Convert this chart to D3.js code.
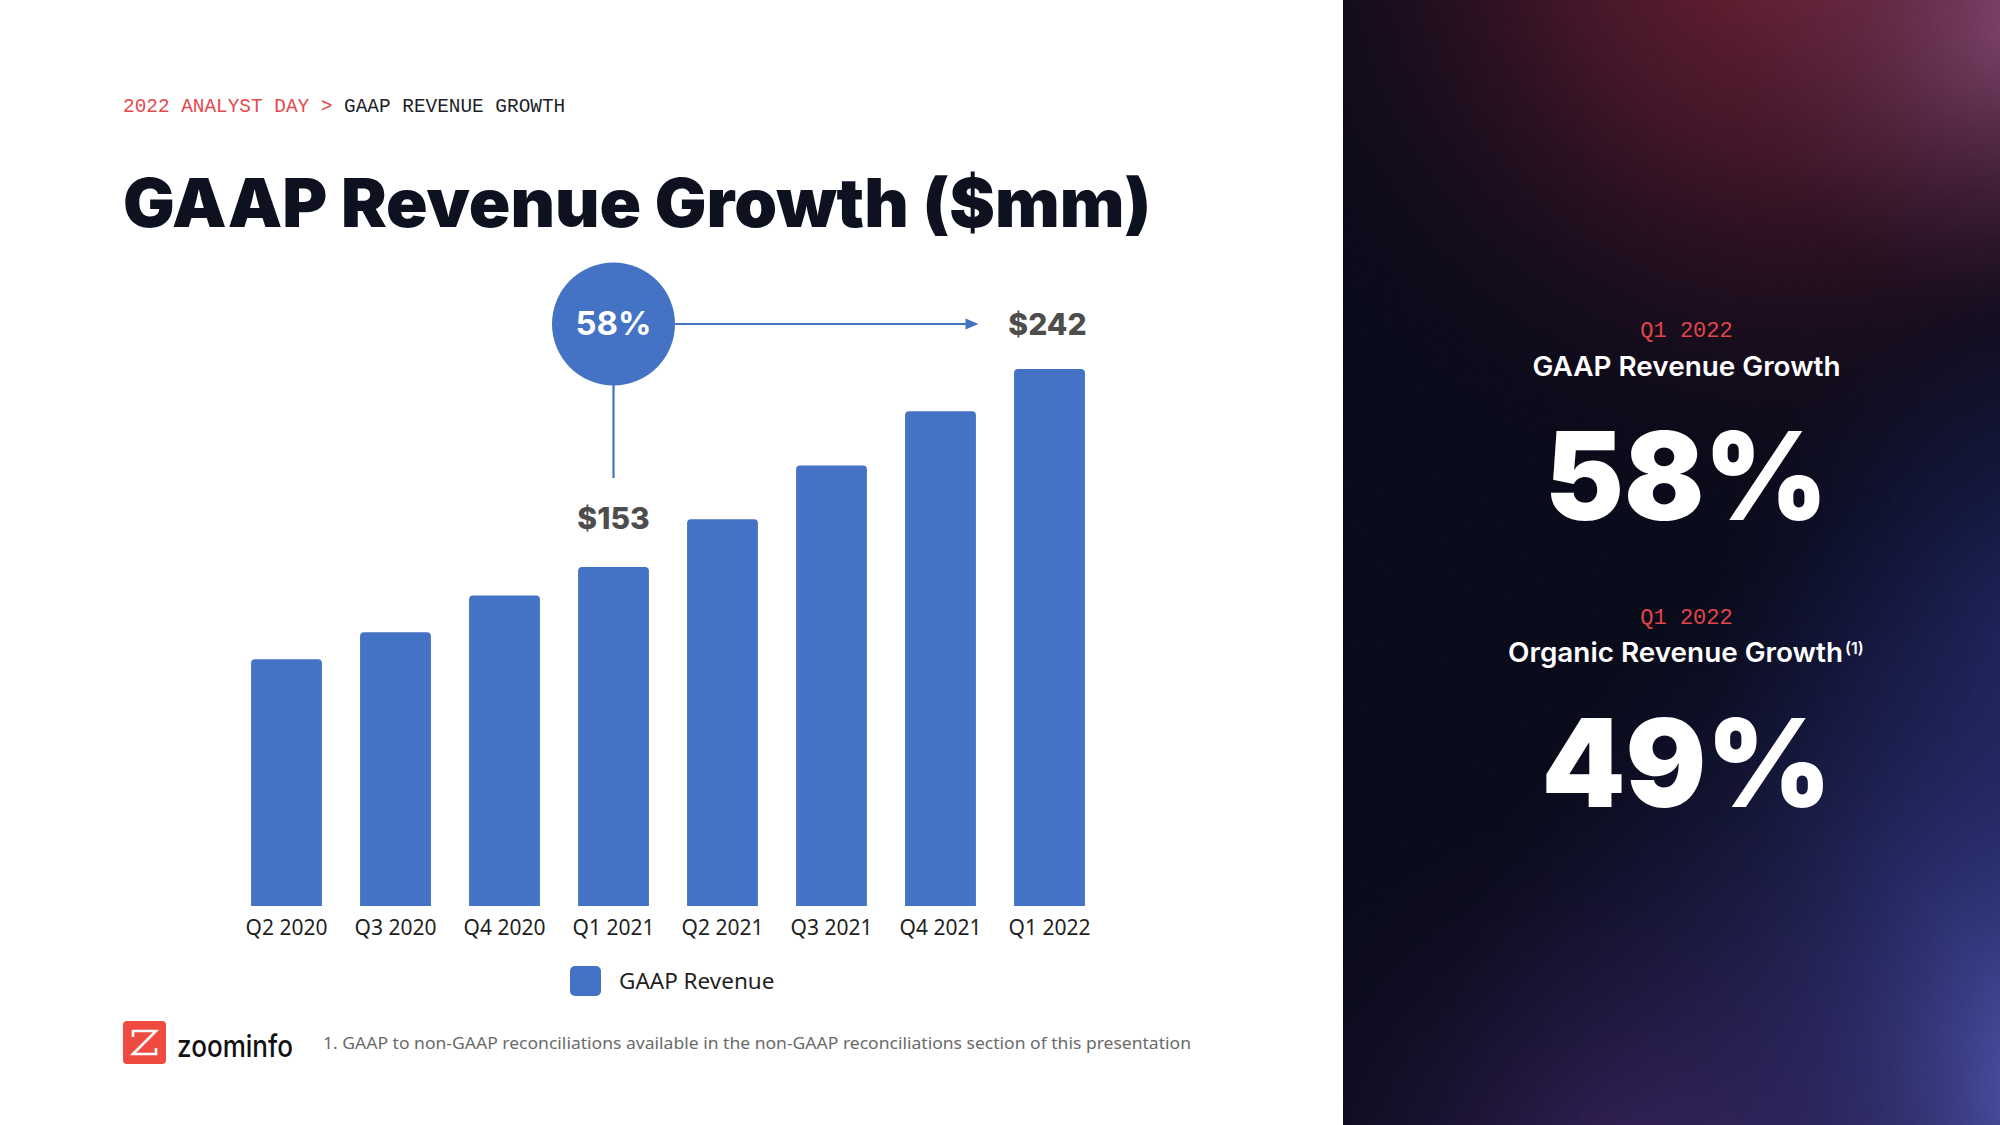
<!DOCTYPE html>
<html><head><meta charset="utf-8">
<script src="https://cdn.jsdelivr.net/npm/d3@7"></script>
<style>body{margin:0;background:#fff}svg{display:block}</style>
</head><body>
<script>
// ---- data ----
const categories = ["Q2 2020","Q3 2020","Q4 2020","Q1 2021","Q2 2021","Q3 2021","Q4 2021","Q1 2022"];
const revenue = [111.0, 123.2, 139.7, 152.6, 174.1, 198.2, 222.7, 241.7];
const seriesName = "GAAP Revenue";
const growthLabel = "58%";
const growthFrom = "Q1 2021";
const growthTo = "Q1 2022";
const statPeriods = ["Q1 2022", "Q1 2022"];
const statTitles = ["GAAP Revenue Growth", "Organic Revenue Growth"];
const statValues = ["58%", "49%"];
const breadcrumb = ["2022 ANALYST DAY > ", "GAAP REVENUE GROWTH"];
const title = "GAAP Revenue Growth ($mm)";
const footnote = "1. GAAP to non-GAAP reconciliations available in the non-GAAP reconciliations section of this presentation";

const W = 2000, H = 1125;
const BLUE = "#4472C4";
const svg = d3.select("body").append("svg").attr("width", W).attr("height", H);
const defs = svg.append("defs");

// ---- right panel background ----
function radial(id, cx, cy, r, stops) {
  const g = defs.append("radialGradient").attr("id", id).attr("gradientUnits", "userSpaceOnUse")
    .attr("cx", cx).attr("cy", cy).attr("r", r);
  stops.forEach(s => g.append("stop").attr("offset", s[0]).attr("stop-color", s[1]).attr("stop-opacity", s[2]));
}
radial("gRed", 1800, -90, 620, [[0, "#7e2638", 0.95], [0.4, "#5a1a2e", 0.7], [0.75, "#2a0e1e", 0.3], [1, "#150a18", 0]]);
radial("gPink", 2030, 20, 300, [[0, "#9a5a88", 0.75], [0.6, "#6a3a60", 0.3], [1, "#4a2a50", 0]]);
radial("gBlueR", 2090, 640, 380, [[0, "#2c3a8c", 0.7], [0.6, "#1c2460", 0.35], [1, "#141a48", 0]]);
radial("gBlue", 2060, 1100, 620, [[0, "#5a62c4", 0.95], [0.4, "#3a4096", 0.6], [1, "#1a1a50", 0]]);
radial("gPurp", 1640, 1210, 420, [[0, "#4a2a72", 0.75], [0.6, "#2a1a48", 0.35], [1, "#1a1030", 0]]);
const nf = defs.append("filter").attr("id", "noise").attr("x", 0).attr("y", 0).attr("width", "100%").attr("height", "100%");
nf.append("feTurbulence").attr("type", "fractalNoise").attr("baseFrequency", 0.9).attr("numOctaves", 2).attr("seed", 3);
nf.append("feColorMatrix").attr("type", "matrix")
  .attr("values", "0 0 0 0 1  0 0 0 0 1  0 0 0 0 1  1 0 0 0 -0.45");
const clip = defs.append("clipPath").attr("id", "panelClip");
clip.append("rect").attr("x", 1343).attr("y", 0).attr("width", W - 1343).attr("height", H);

const panel = svg.append("g").attr("clip-path", "url(#panelClip)");
panel.append("rect").attr("x", 1343).attr("y", 0).attr("width", W - 1343).attr("height", H).attr("fill", "#090a1a");
["gRed", "gPink", "gBlueR", "gBlue", "gPurp"].forEach(id =>
  panel.append("rect").attr("x", 1343).attr("y", 0).attr("width", W - 1343).attr("height", H).attr("fill", `url(#${id})`));
panel.append("rect").attr("x", 1343).attr("y", 0).attr("width", W - 1343).attr("height", H)
  .attr("filter", "url(#noise)").attr("opacity", 0.06);

// ---- header ----
svg.append("text").attr("x", 123).attr("y", 112)
  .style("font-family", "'Liberation Mono', monospace").style("font-size", "19.4px")
  .call(t => {
    t.append("tspan").attr("fill", "#e5484d").text(breadcrumb[0]);
    t.append("tspan").attr("fill", "#1d1f2a").text(breadcrumb[1]);
  });
svg.append("text").attr("x", 123).attr("y", 227).text(title)
  .attr("textLength", 1028).attr("lengthAdjust", "spacingAndGlyphs")
  .style("font-family", "Inter, sans-serif").style("font-weight", 900).style("font-size", "67px")
  .attr("fill", "#0e1220");

// ---- chart ----
const x = d3.scaleBand().domain(categories).range([232, 1104]).paddingInner(0.35).paddingOuter(0.175);
const y = d3.scaleLinear().domain([0, 250]).range([906, 906 - 250 * 2.222]);
const data = categories.map((c, i) => ({ c, v: revenue[i] }));

function barPath(x0, y0, w, h, r) {
  return `M${x0},${y0 + h}V${y0 + r}Q${x0},${y0} ${x0 + r},${y0}H${x0 + w - r}Q${x0 + w},${y0} ${x0 + w},${y0 + r}V${y0 + h}Z`;
}
svg.append("g").selectAll("path").data(data).join("path")
  .attr("d", d => barPath(x(d.c), y(d.v), x.bandwidth(), y(0) - y(d.v), 4))
  .attr("fill", BLUE);

const xAxis = svg.append("g").attr("transform", `translate(0,${y(0)})`)
  .call(d3.axisBottom(x).tickSize(0).tickPadding(0));
xAxis.select(".domain").remove();
xAxis.selectAll("text").attr("dy", null).attr("y", 29)
  .style("font-family", "'Noto Sans', sans-serif").style("font-size", "21px").attr("fill", "#1f1f1f");

// ---- annotation ----
const cx = x(growthFrom) + x.bandwidth() / 2;
const cxTo = x(growthTo) + x.bandwidth() / 2;
const cy = 324, r = 61.5;
svg.append("line").attr("x1", cx).attr("x2", cx).attr("y1", cy + r - 2).attr("y2", 478)
  .attr("stroke", BLUE).attr("stroke-width", 2.2);
svg.append("line").attr("x1", cx + r - 2).attr("x2", cxTo - 82).attr("y1", cy).attr("y2", cy)
  .attr("stroke", BLUE).attr("stroke-width", 2.2);
svg.append("path").attr("d", `M${cxTo - 71},${cy}L${cxTo - 84},${cy - 5.5}L${cxTo - 84},${cy + 5.5}Z`).attr("fill", BLUE);
svg.append("circle").attr("cx", cx).attr("cy", cy).attr("r", r).attr("fill", BLUE);
svg.append("text").attr("x", cx).attr("y", 335).attr("text-anchor", "middle").text(growthLabel)
  .style("font-family", "Inter, sans-serif").style("font-weight", 700).style("font-size", "33px").attr("fill", "#fff");

const fromVal = revenue[categories.indexOf(growthFrom)];
const toVal = revenue[categories.indexOf(growthTo)];
svg.append("text").attr("x", cx).attr("y", 529).attr("text-anchor", "middle").text("$" + Math.round(fromVal))
  .style("font-family", "Inter, sans-serif").style("font-weight", 800).style("font-size", "30px").attr("fill", "#4d4d4d");
svg.append("text").attr("x", cxTo - 2).attr("y", 334.5).attr("text-anchor", "middle").text("$" + Math.round(toVal))
  .style("font-family", "Inter, sans-serif").style("font-weight", 800).style("font-size", "30px").attr("fill", "#4d4d4d");

// ---- legend ----
svg.append("rect").attr("x", 570).attr("y", 966).attr("width", 31).attr("height", 30).attr("rx", 5).attr("fill", BLUE);
svg.append("text").attr("x", 619).attr("y", 989).text(seriesName)
  .style("font-family", "'Noto Sans', sans-serif").style("font-size", "22.5px").attr("fill", "#1f1f1f");

// ---- footer ----
svg.append("rect").attr("x", 123).attr("y", 1021).attr("width", 43).attr("height", 43).attr("rx", 4).attr("fill", "#ef4a3f");
svg.append("path").attr("d", "M133,1037V1031H156L133,1054H156V1048")
  .attr("fill", "none").attr("stroke", "#fff").attr("stroke-width", 2.6).attr("stroke-linejoin", "miter");
svg.append("text").attr("x", 177).attr("y", 1057).text("zoominfo").attr("textLength", 116).attr("lengthAdjust", "spacingAndGlyphs")
  .style("font-family", "Inter, sans-serif").style("font-weight", 500).style("font-size", "30px").attr("fill", "#111");
svg.append("text").attr("x", 323).attr("y", 1049).text(footnote).attr("textLength", 868).attr("lengthAdjust", "spacingAndGlyphs")
  .style("font-family", "'Noto Sans', sans-serif").style("font-size", "17px").attr("fill", "#6a6a6a");

// ---- right panel stats ----
const pcx = 1686.5;
const statY = [{ p: 337, t: 376, v: 520, tl: 308, vl: 283 }, { p: 624, t: 661.5, v: 807, tl: 335, vl: 290 }];
statY.forEach((s, i) => {
  svg.append("text").attr("x", pcx).attr("y", s.p).attr("text-anchor", "middle").text(statPeriods[i])
    .style("font-family", "'Liberation Mono', monospace").style("font-size", "22px").attr("fill", "#e0464a");
  if (i === 0) {
    svg.append("text").attr("x", pcx).attr("y", s.t).attr("text-anchor", "middle").text(statTitles[i])
      .attr("textLength", s.tl).attr("lengthAdjust", "spacingAndGlyphs")
      .style("font-family", "Inter, sans-serif").style("font-weight", 600).style("font-size", "27px").attr("fill", "#fff");
  } else {
    svg.append("text").attr("x", 1508).attr("y", s.t).text(statTitles[i])
      .attr("textLength", s.tl).attr("lengthAdjust", "spacingAndGlyphs")
      .style("font-family", "Inter, sans-serif").style("font-weight", 600).style("font-size", "27px").attr("fill", "#fff");
    svg.append("text").attr("x", 1845).attr("y", 654).text("(1)")
      .style("font-family", "Inter, sans-serif").style("font-weight", 600).style("font-size", "16px").attr("fill", "#fff");
  }
  svg.append("text").attr("x", pcx).attr("y", s.v).attr("text-anchor", "middle").text(statValues[i])
    .attr("textLength", s.vl).attr("lengthAdjust", "spacingAndGlyphs")
    .style("font-family", "Inter, sans-serif").style("font-weight", 900).style("font-size", "122px").attr("fill", "#fff");
});
</script>
</body></html>
